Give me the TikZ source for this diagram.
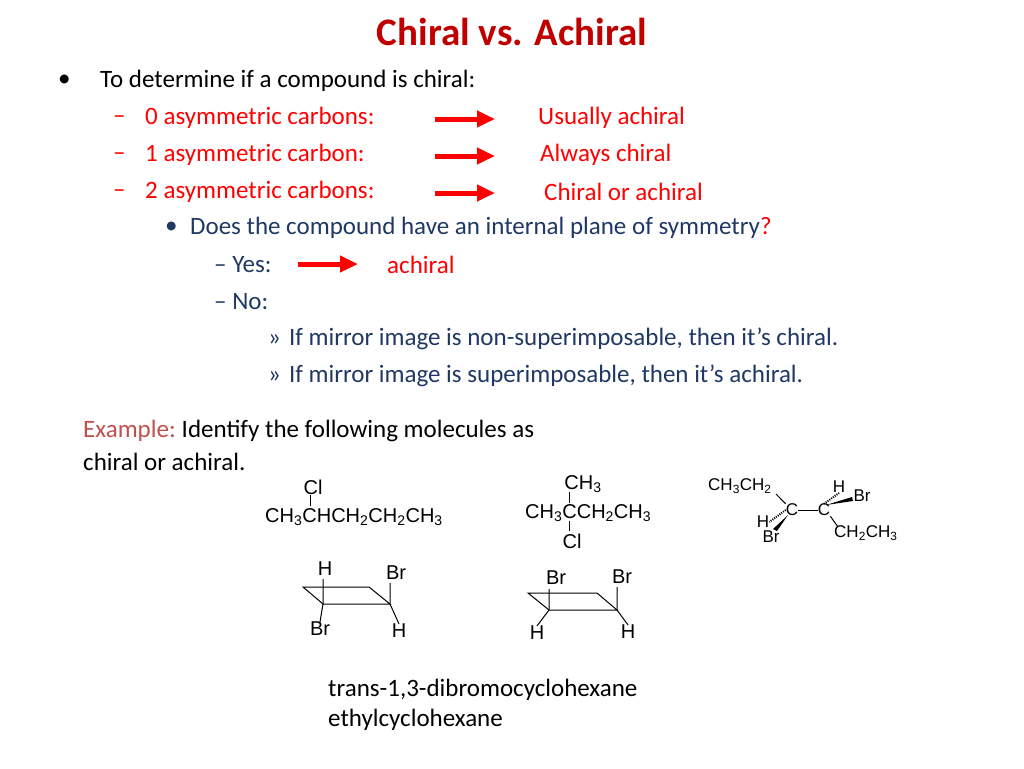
\documentclass[tikz,border=0pt]{standalone}
\usepackage{fontspec}
\setmainfont{Carlito}
\newfontfamily\chem{Liberation Sans}
\usetikzlibrary{arrows.meta}
\definecolor{navy}{HTML}{1F3864}
\definecolor{title}{HTML}{C00000}
\definecolor{ex}{HTML}{C0504D}
\begin{document}
\begin{tikzpicture}[x=1pt,y=-1pt,
  txt/.style={anchor=west,inner sep=0pt,font=\fontsize{25}{30}\selectfont},
  ch/.style={inner sep=0pt,font=\chem\fontsize{20}{24}\selectfont},
  chs/.style={inner sep=0pt,font=\chem\fontsize{17}{20}\selectfont},
  bigarrow/.style={red,line width=5pt,-{Triangle[length=18pt,width=16pt]}},
  bond/.style={line width=1pt}]
\useasboundingbox (0,0) rectangle (1024,768);
\node[inner sep=0pt,text=title,font=\bfseries\fontsize{39}{44}\selectfont] (t) at (512,32) {Chiral vs. Achiral};
\node[txt] (b1) at (58,81) {\vphantom{Ag}•};
\node[txt] (l1) at (100,81) {To determine if a compound is chiral:};
\foreach \y/\a/\b/\bx [count=\i] in {118/0 asymmetric carbons:/Usually achiral/538,155/1 asymmetric carbon:/Always chiral/540,192/2 asymmetric carbons:/Chiral or achiral/544}{
  \node[txt,text=red] (d\i) at (113,\y) {\vphantom{Ag}--};
  \node[txt,text=red] (a\i) at (145,\y) {\a};
  \node[txt,text=red] (r\i) at (\bx,\y) {\b};
  \coordinate (s\i) at (435,\y+1);
  \coordinate (e\i) at (495,\y+1);
  \draw[bigarrow] (s\i) -- (e\i);
}
\node[txt,text=navy] (b2) at (165,228) {\vphantom{Ag}•};
\node[txt,text=navy] (l2) at (190,228) {Does the compound have an internal plane of symmetry\textcolor{red}{?}};
\node[txt,text=navy] (d4) at (214,265) {-- Yes:};
\coordinate (s4) at (298,264); \coordinate (e4) at (358,264);
\draw[bigarrow] (s4) -- (e4);
\node[txt,text=red] (r4) at (387,265) {achiral};
\node[txt,text=navy] (d5) at (214,302) {-- No:};
\node[txt,text=navy] (m1) at (268,339) {»\hspace{8pt}If mirror image is non-superimposable, then it’s chiral.};
\node[txt,text=navy] (m2) at (268,376) {»\hspace{8pt}If mirror image is superimposable, then it’s achiral.};
\node[txt] (ex1) at (83,431) {\textcolor{ex}{Example:}\hspace{6pt}Identify the following molecules as};
\node[txt] (ex2) at (83,462) {chiral or achiral.};
% molecule 1
\node[ch] (cl1) at (313,487) {Cl};
\node[ch,anchor=west] (f1) at (265,517) {CH\textsubscript{3}CHCH\textsubscript{2}CH\textsubscript{2}CH\textsubscript{3}};
\coordinate (q1) at (310,495); \coordinate (q2) at (310,506);
\draw[bond] (q1) -- (q2);
% molecule 2
\node[ch] (m2a) at (583,484) {CH\textsubscript{3}};
\node[ch,anchor=west] (f2) at (525,513) {CH\textsubscript{3}CCH\textsubscript{2}CH\textsubscript{3}};
\node[ch] (cl2) at (572,541) {Cl};
\coordinate (p1) at (569,492); \coordinate (p2) at (569,503);
\coordinate (p3) at (569,521); \coordinate (p4) at (569,531);
\draw[bond] (p1) -- (p2) (p3) -- (p4);
% molecule 3
\node[chs,anchor=west] (e3) at (708,486) {CH\textsubscript{3}CH\textsubscript{2}};
\node[chs] (h1) at (839,487) {H};
\node[chs] (br1) at (862,496) {Br};
\node[chs] (c1) at (792,510) {C};
\node[chs] (c2) at (824,510) {C};
\node[chs] (h2) at (763,522) {H};
\node[chs] (br2) at (771,537) {Br};
\node[chs,anchor=west] (e4) at (834,533) {CH\textsubscript{2}CH\textsubscript{3}};
\coordinate (k1) at (776,494); \coordinate (k2) at (838,527);
\draw[bond] (k1) -- (c1.north west);
\draw[bond] (c1) -- (c2);
\draw[bond] (c2.south east) -- (k2);
\draw[dash pattern=on 1pt off 1.2pt,line width=2pt] (c2.north) -- (h1.south);
\draw[dash pattern=on 1pt off 1.2pt,line width=2pt] (c1.west) -- (h2.east);
\fill (826,505) -- (852,497) -- (853,501) -- cycle;
\fill (788,515) -- (773,529) -- (777,531) -- cycle;
% chair 1
\coordinate (A1) at (303,587); \coordinate (A2) at (369,587);
\coordinate (A3) at (390,604); \coordinate (A4) at (323,604);
\draw[bond] (A1) -- (A2) -- (A3) -- (A4) -- cycle;
\node[ch] (hA) at (325,569) {H};
\node[ch] (brA) at (396,573) {Br};
\node[ch] (brB) at (320,629) {Br};
\node[ch] (hB) at (399,631) {H};
\coordinate (uA) at (323,579); \coordinate (uB) at (390,583);
\draw[bond] (uA) -- (A4) -- (brB.north);
\draw[bond] (uB) -- (A3) -- (hB.north);
% chair 2
\coordinate (B1) at (528,593); \coordinate (B2) at (597,593);
\coordinate (B3) at (617,610); \coordinate (B4) at (549,610);
\draw[bond] (B1) -- (B2) -- (B3) -- (B4) -- cycle;
\node[ch] (brC) at (556,578) {Br};
\node[ch] (brD) at (622,577) {Br};
\node[ch] (hC) at (537,633) {H};
\node[ch] (hD) at (628,632) {H};
\coordinate (uC) at (549,589); \coordinate (uD) at (617,587);
\draw[bond] (uC) -- (B4) -- (hC.north);
\draw[bond] (uD) -- (B3) -- (hD.north);
\node[txt] (n1) at (328,690) {trans-1,3-dibromocyclohexane};
\node[txt] (n2) at (328,720) {ethylcyclohexane};
\end{tikzpicture}
\end{document}
